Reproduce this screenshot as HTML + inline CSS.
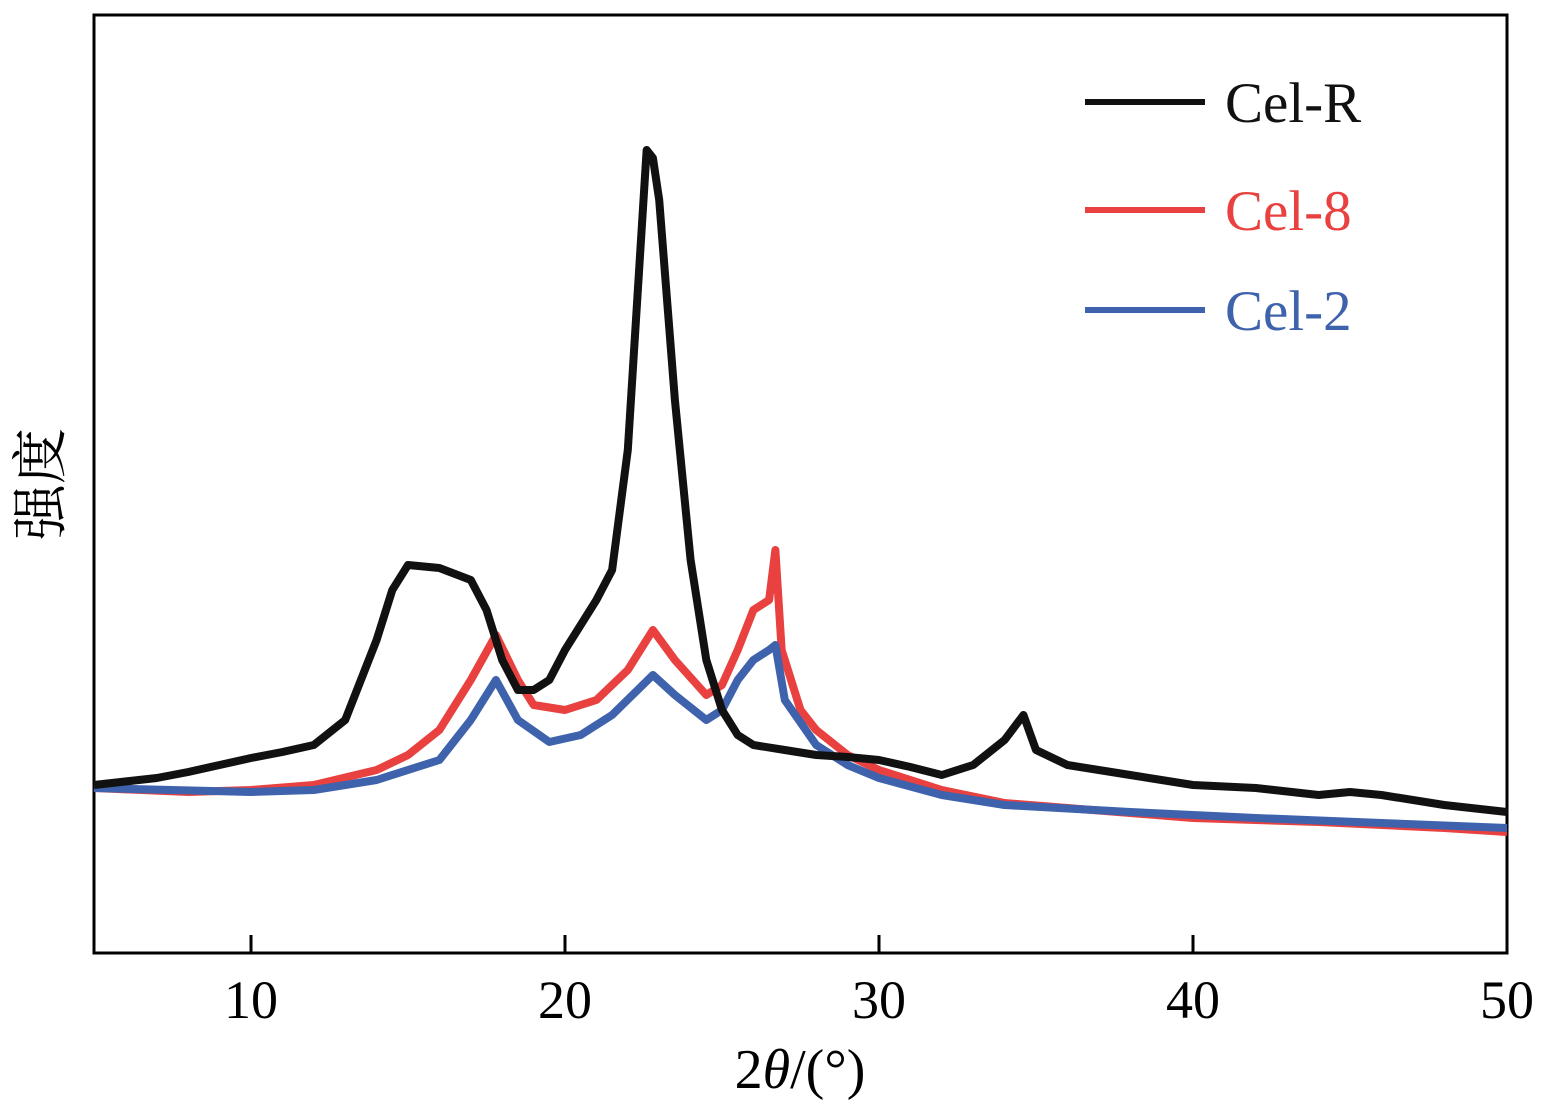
<!DOCTYPE html>
<html><head><meta charset="utf-8"><style>
body{margin:0;background:#fff;}
svg text{font-family:"Liberation Serif","Noto Serif CJK SC",serif;}
</style></head><body>
<svg id="chart" width="1549" height="1108" viewBox="0 0 1549 1108" xmlns="http://www.w3.org/2000/svg">
<rect x="94" y="15" width="1413" height="938" fill="none" stroke="#000" stroke-width="3"/>
<g id="ticks"></g>
<g id="series"></g>
<text x="800" y="1088" font-size="56" text-anchor="middle">2<tspan font-style="italic">θ</tspan>/(°)</text>
<text transform="translate(60,484) rotate(-90)" font-size="56" text-anchor="middle" font-family="'Noto Serif CJK SC',serif">强度</text>
<g>
<line x1="1085" y1="102" x2="1205" y2="102" stroke="#111" stroke-width="6"/>
<text x="1225" y="122" font-size="57" fill="#111">Cel-R</text>
<line x1="1085" y1="210" x2="1205" y2="210" stroke="#e8413f" stroke-width="6"/>
<text x="1225" y="230" font-size="57" fill="#e8413f">Cel-8</text>
<line x1="1085" y1="310" x2="1205" y2="310" stroke="#3f62ac" stroke-width="6"/>
<text x="1225" y="330" font-size="57" fill="#3f62ac">Cel-2</text>
</g>
</svg>
<script>
const xTicks=[10,20,30,40,50];
const celR_x=[5,7,8,9,10,11,12,13,14,14.5,15,16,17,17.5,18,18.5,19,19.5,20,21,21.5,22,22.3,22.6,22.8,23,23.5,24,24.5,25,25.5,26,27,28,29,30,31,32,33,34,34.6,35,36,38,40,42,44,45,46,48,50];
const celR_y=[168,175,181,188,195,201,208,233,313,363,388,385,373,343,293,263,263,273,303,353,383,503,653,803,795,753,553,393,293,243,218,208,203,198,196,193,186,178,188,213,238,203,188,178,168,165,158,161,158,148,141];
const cel8_x=[5,8,10,12,14,15,16,17,17.8,18.5,19,20,21,22,22.8,23.5,24.5,25,25.5,26,26.5,26.7,26.9,27.5,28,29,30,32,34,36,40,44,48,50];
const cel8_y=[165,161,163,168,183,198,223,273,318,273,248,243,253,283,323,293,258,268,303,343,353,403,303,243,223,198,183,163,150,145,135,131,125,121];
const cel2_x=[5,10,12,14,16,17,17.8,18.5,19.5,20.5,21.5,22.8,23.5,24.5,25,25.5,26,26.5,26.7,27,28,29,30,32,34,38,42,46,50];
const cel2_y=[165,161,163,173,193,233,273,233,211,218,238,278,258,233,243,273,293,303,308,253,208,188,175,158,148,141,135,130,125];
const X=v=>94+(v-5)*(1413/45);
const Y=v=>953-v;
const tg=document.getElementById('ticks');
xTicks.forEach(t=>{
 const l=document.createElementNS('http://www.w3.org/2000/svg','line');
 
 
 l.setAttribute('x1',X(t));l.setAttribute('x2',X(t));l.setAttribute('y1',953);l.setAttribute('y2',935);
 l.setAttribute('stroke','#000');l.setAttribute('stroke-width','3');tg.appendChild(l);
 const tx=document.createElementNS('http://www.w3.org/2000/svg','text');
 
 
 tx.setAttribute('x',X(t));tx.setAttribute('y',1018);tx.setAttribute('font-size','54');tx.setAttribute('text-anchor','middle');
 tx.textContent=t;tg.appendChild(tx);
});
const sg=document.getElementById('series');
function draw(xs,ys,color,name){
 const p=document.createElementNS('http://www.w3.org/2000/svg','polyline');
 
 
 p.setAttribute('points',xs.map((x,i)=>X(x)+','+Y(ys[i])).join(' '));
 p.setAttribute('fill','none');p.setAttribute('stroke',color);p.setAttribute('stroke-width','8');p.setAttribute('stroke-linejoin','round');
 sg.appendChild(p);
}
draw(cel8_x,cel8_y,'#e8413f','series-cel-8');
draw(cel2_x,cel2_y,'#3f62ac','series-cel-2');
draw(celR_x,celR_y,'#111','series-cel-r');
</script>
</body></html>
